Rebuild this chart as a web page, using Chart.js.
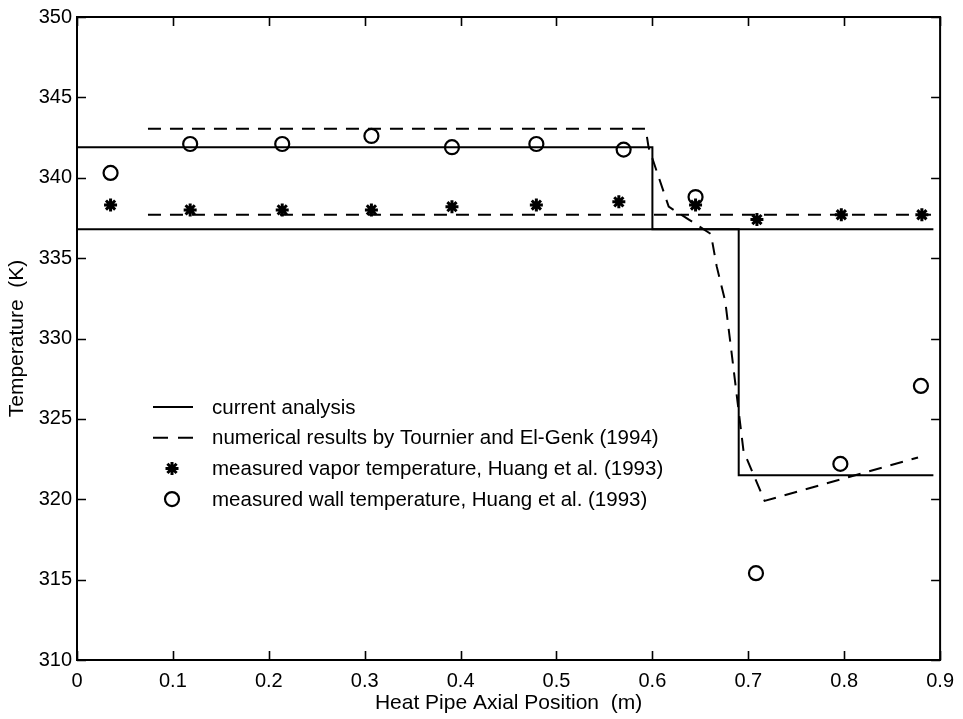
<!DOCTYPE html>
<html>
<head>
<meta charset="utf-8">
<script src="https://cdn.jsdelivr.net/npm/chart.js@4.4.1/dist/chart.umd.min.js"></script>
<style>
  html, body { margin: 0; padding: 0; background: #fff; }
  #wrap { width: 963px; height: 719px; }
</style>
</head>
<body>
<div id="wrap"><canvas id="c" width="963" height="719"></canvas></div>
<script>
// ---- data ----
const xTickValues = [0, 0.1, 0.2, 0.3, 0.4, 0.5, 0.6, 0.7, 0.8, 0.9];
const xTickLabels = ['0', '0.1', '0.2', '0.3', '0.4', '0.5', '0.6', '0.7', '0.8', '0.9'];
const yTickValues = [310, 315, 320, 325, 330, 335, 340, 345, 350];
const yTickLabels = ['310', '315', '320', '325', '330', '335', '340', '345', '350'];

const seriesNames = [
  'current analysis',
  'numerical results by Tournier and El-Genk (1994)',
  'measured vapor temperature, Huang et al. (1993)',
  'measured wall temperature, Huang et al. (1993)'
];

// current analysis: wall profile and vapor profile
const currentWallX = [0, 0.6, 0.6, 0.69, 0.69, 0.893];
const currentWallY = [341.9, 341.9, 336.8, 336.8, 321.5, 321.5];
const currentVaporX = [0, 0.893];
const currentVaporY = [336.8, 336.8];

// Tournier and El-Genk numerical results
const tournierWallX = [0.074, 0.593, 0.596, 0.617, 0.638, 0.661, 0.667, 0.676, 0.682, 0.695, 0.717, 0.877];
const tournierWallY = [343.05, 343.05, 341.9, 338.2, 337.4, 336.5, 334.5, 332.3, 329.4, 323.0, 319.9, 322.6];
const tournierVaporX = [0.074, 0.894];
const tournierVaporY = [337.7, 337.7];

// measured data, Huang et al.
const vaporX = [0.035, 0.118, 0.214, 0.307, 0.391, 0.479, 0.565, 0.645, 0.709, 0.797, 0.881];
const vaporY = [338.3, 338.0, 338.0, 338.0, 338.2, 338.3, 338.5, 338.3, 337.4, 337.7, 337.7];
const wallX = [0.035, 0.118, 0.214, 0.307, 0.391, 0.479, 0.570, 0.645, 0.708, 0.796, 0.880];
const wallY = [340.3, 342.1, 342.1, 342.6, 341.9, 342.1, 341.75, 338.8, 315.4, 322.2, 327.05];

// ---- helpers ----
const pts = (xs, ys) => xs.map((x, i) => ({ x: x, y: ys[i] }));
const FONT = '"Liberation Sans", Arial, Helvetica, sans-serif';
const DASH = [13, 9];

const solidStyle = { showLine: true, borderColor: '#000', borderWidth: 2, pointRadius: 0, pointHoverRadius: 0, fill: false, tension: 0 };
const dashStyle = Object.assign({}, solidStyle, { borderDash: DASH });

const datasets = [
  Object.assign({ label: seriesNames[0], data: pts(currentWallX, currentWallY) }, solidStyle),
  Object.assign({ label: seriesNames[0] + ' (vapor)', data: pts(currentVaporX, currentVaporY) }, solidStyle),
  Object.assign({ label: seriesNames[1], data: pts(tournierWallX, tournierWallY) }, dashStyle),
  Object.assign({ label: seriesNames[1] + ' (vapor)', data: pts(tournierVaporX, tournierVaporY) }, dashStyle),
  { label: seriesNames[2], data: pts(vaporX, vaporY), showLine: false, pointStyle: 'star', pointRadius: 6.5, borderColor: '#000', borderWidth: 3, backgroundColor: '#000' },
  { label: seriesNames[3], data: pts(wallX, wallY), showLine: false, pointStyle: 'circle', pointRadius: 7, borderColor: '#000', borderWidth: 2.2, backgroundColor: 'rgba(255,255,255,0)' }
];

// frame with inward ticks on all four sides (MATLAB style)
const framePlugin = {
  id: 'frame',
  afterDatasetsDraw(chart) {
    const { ctx, chartArea: a, scales } = chart;
    ctx.save();
    ctx.strokeStyle = '#000';
    ctx.lineWidth = 2;
    ctx.strokeRect(a.left, a.top, a.right - a.left, a.bottom - a.top);
    ctx.lineWidth = 1.6;
    const L = 9;
    ctx.beginPath();
    xTickValues.forEach(v => {
      const px = Math.round(scales.x.getPixelForValue(v)) + 0.5;
      ctx.moveTo(px, a.bottom); ctx.lineTo(px, a.bottom - L);
      ctx.moveTo(px, a.top); ctx.lineTo(px, a.top + L);
    });
    yTickValues.forEach(v => {
      const py = Math.round(scales.y.getPixelForValue(v)) + 0.5;
      ctx.moveTo(a.left, py); ctx.lineTo(a.left + L, py);
      ctx.moveTo(a.right, py); ctx.lineTo(a.right - L, py);
    });
    ctx.stroke();
    ctx.restore();
  }
};

// legend drawn inside the plot area
const legendPlugin = {
  id: 'inlegend',
  afterDraw(chart) {
    const { ctx, chartArea: a } = chart;
    const x0 = a.left + 76;      // sample start
    const sw = 40;               // sample width
    const tx = a.left + 135;     // text start
    const y0 = a.top + 390;      // first row
    const dy = 30.7;
    ctx.save();
    ctx.fillStyle = '#000';
    ctx.strokeStyle = '#000';
    ctx.font = '20.5px ' + FONT;
    ctx.textBaseline = 'middle';
    ctx.textAlign = 'left';
    seriesNames.forEach((name, i) => {
      const y = y0 + i * dy;
      ctx.fillStyle = '#000';
      ctx.fillText(name, tx, y + 1);
      if (i === 0 || i === 1) {
        ctx.lineWidth = 2;
        ctx.setLineDash(i === 1 ? [15, 10] : []);
        ctx.beginPath(); ctx.moveTo(x0, y); ctx.lineTo(x0 + sw, y); ctx.stroke();
        ctx.setLineDash([]);
      } else {
        const ds = chart.data.datasets[i + 2];
        ctx.fillStyle = ds.backgroundColor;
        ctx.lineWidth = ds.borderWidth;
        Chart.helpers.drawPoint(ctx, {
          pointStyle: ds.pointStyle, radius: ds.pointRadius, rotation: 0,
          borderWidth: ds.borderWidth
        }, x0 + sw / 2 - 1, y);
      }
    });
    ctx.restore();
  }
};

new Chart(document.getElementById('c'), {
  type: 'scatter',
  data: { datasets: datasets },
  options: {
    responsive: false,
    animation: false,
    events: [],
    layout: { padding: { top: 15, right: 20, bottom: 0, left: 0 } },
    plugins: { legend: { display: false }, tooltip: { enabled: false } },
    scales: {
      x: {
        type: 'linear', min: 0, max: 0.9,
        afterBuildTicks: s => { s.ticks = xTickValues.map(v => ({ value: v })); },
        afterFit: s => { s.height = 59; },
        grid: { display: false, drawTicks: false },
        border: { display: false },
        ticks: { color: '#000', padding: 9, maxRotation: 0, font: { family: FONT, size: 20 },
                 callback: (v, i) => xTickLabels[i] },
        title: { display: true, text: 'Heat Pipe Axial Position  (m)', color: '#000',
                 font: { family: FONT, size: 21 }, padding: { top: 0, bottom: 3 } }
      },
      y: {
        type: 'linear', min: 310, max: 350,
        afterBuildTicks: s => { s.ticks = yTickValues.map(v => ({ value: v })); },
        afterFit: s => { s.width = 77; },
        grid: { display: false, drawTicks: false },
        border: { display: false },
        ticks: { color: '#000', padding: 5, font: { family: FONT, size: 20 },
                 callback: (v, i) => yTickLabels[i] },
        title: { display: true, text: 'Temperature  (K)', color: '#000',
                 font: { family: FONT, size: 21 }, padding: { top: 5, bottom: 0 } }
      }
    }
  },
  plugins: [framePlugin, legendPlugin]
});
</script>
</body>
</html>
